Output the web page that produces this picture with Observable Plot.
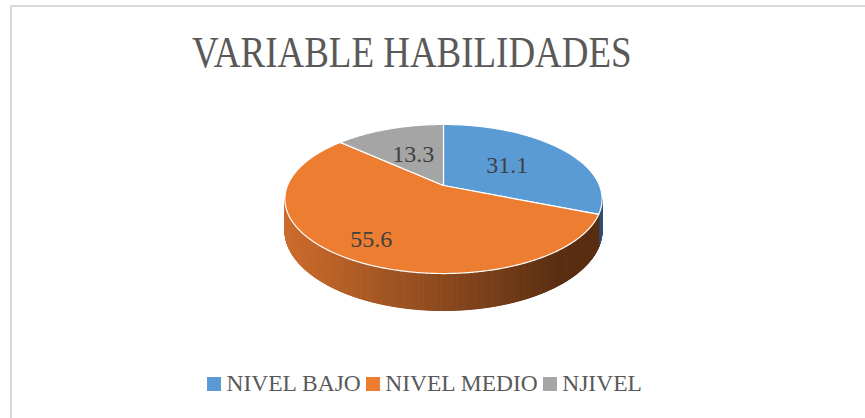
<!DOCTYPE html>
<html><head><meta charset="utf-8">
<script src="https://cdn.jsdelivr.net/npm/d3@7"></script>
<script src="https://cdn.jsdelivr.net/npm/@observablehq/plot@0.6"></script>
<style>
body{margin:0;background:#fff;}
#frame{position:relative;width:865px;height:418px;overflow:hidden;background:#fff;}
#border{position:absolute;left:10px;top:5px;right:0;bottom:-10px;border-left:2px solid #d9d9d9;border-top:2px solid #d9d9d9;}
#title{position:absolute;left:0;width:823px;top:31px;text-align:center;font-family:"Liberation Serif","Times New Roman",serif;font-size:44px;line-height:44px;color:#595959;white-space:nowrap;}
#title span{display:inline-block;transform:scaleX(0.84);}
#chart{position:absolute;left:0;top:90px;}
#legend{position:absolute;left:207px;top:372px;font-family:"Liberation Serif","Times New Roman",serif;font-size:23.5px;line-height:23.5px;color:#595959;white-space:nowrap;}
.item{display:inline-block;margin-right:5px;}
.sw{display:inline-block;width:14px;height:14px;margin-right:5.5px;vertical-align:baseline;}
#chart text{font-family:"Liberation Serif","Times New Roman",serif;}
</style>
</head><body>
<div id="frame">
  <div id="border"></div>
  <div id="title"><span>VARIABLE HABILIDADES</span></div>
  <div id="chart"></div>
  <div id="legend"></div>
</div>
<script>
// ---- data ----
const categories = ["NIVEL BAJO", "NIVEL MEDIO", "NJIVEL"];
const values = [31.1, 55.6, 13.3];
const labels = ["31.1", "55.6", "13.3"];

// ---- styles / layout ----
const topColors = ["#5b9bd5", "#ed7d31", "#a5a5a5"];
const sideLight = ["#4f86bb", "#cc6c2d", "#8c8c8c"];
const sideDark = ["#2d5378", "#5a2e12", "#4a4a4a"];
const persp = 0.181;      // perspective factor
const depth = 0.42;       // pie thickness (model units)
const labelRadius = [0.52, 0.77, 0.52];

const total = d3.sum(values);
let acc = 0;
const slices = values.map((v, i) => {
  const a0 = acc / total * 2 * Math.PI; acc += v;
  const a1 = acc / total * 2 * Math.PI;
  return {i, a0, a1};
});

function proj(theta, k = 1, h = 0) {
  const u = k * Math.sin(theta), v = k * Math.cos(theta);
  const s = 1 / (1 + persp * v);
  return {X: u * s, Y: (v - h) * s};
}

// top faces
const topPts = [];
slices.forEach(sl => {
  topPts.push({id: sl.i, ...proj(0, 0), c: topColors[sl.i]});
  const n = Math.max(2, Math.ceil((sl.a1 - sl.a0) / (Math.PI / 360)));
  for (let j = 0; j <= n; j++) {
    const t = sl.a0 + (sl.a1 - sl.a0) * j / n;
    topPts.push({id: sl.i, ...proj(t), c: topColors[sl.i]});
  }
});

// visible side (front), split into strips for shading
const tL = Math.acos(-persp), tR = 2 * Math.PI - tL;
const N = 320;
let angs = d3.range(N + 1).map(j => tL + (tR - tL) * j / N);
slices.forEach(sl => { if (sl.a1 > tL && sl.a1 < tR) angs.push(sl.a1); });
angs = Array.from(new Set(angs)).sort((a, b) => a - b);
const sidePts = [];
for (let j = 0; j < angs.length - 1; j++) {
  const t0 = angs[j], t1 = angs[j + 1], tm = (t0 + t1) / 2;
  const sl = slices.find(s => tm >= s.a0 && tm < s.a1);
  const Xm = proj(tm).X;
  const f = Math.max(0, Math.min(1, (Xm + 1) / 1.75));
  const c = d3.interpolateRgb(sideLight[sl.i], sideDark[sl.i])(f);
  [proj(t0), proj(t1), proj(t1, 1, depth), proj(t0, 1, depth)].forEach(p => sidePts.push({id: j, ...p, c}));
}

// labels
const labelPts = slices.map(sl => ({...proj((sl.a0 + sl.a1) / 2, labelRadius[sl.i]), label: labels[sl.i]}));

const chart = Plot.plot({
  width: 865, height: 250, margin: 0,
  style: {fontFamily: "'Liberation Serif', 'Times New Roman', serif", background: "transparent"},
  x: {domain: [-1, 1], range: [287, 599], axis: null},
  y: {domain: [-1, 1], range: [167.1, 22.9], axis: null},
  color: {type: "identity"},
  marks: [
    Plot.line(sidePts, {x: "X", y: "Y", z: "id", fill: "c", stroke: "c", strokeWidth: 1, curve: "linear-closed"}),
    Plot.line(topPts, {x: "X", y: "Y", z: "id", fill: "c", stroke: "#ffffff", strokeWidth: 1.2, strokeLinejoin: "round", curve: "linear-closed"}),
    Plot.text(labelPts, {x: "X", y: "Y", text: "label", fontSize: 24, fontFamily: "'Liberation Serif', 'Times New Roman', serif", fill: "#404040"})
  ]
});
document.getElementById("chart").appendChild(chart);

// legend
const leg = document.getElementById("legend");
categories.forEach((c, i) => {
  const it = document.createElement("span"); it.className = "item";
  const sw = document.createElement("span"); sw.className = "sw"; sw.style.background = topColors[i];
  it.appendChild(sw); it.appendChild(document.createTextNode(c));
  leg.appendChild(it);
});
</script>
</body></html>
